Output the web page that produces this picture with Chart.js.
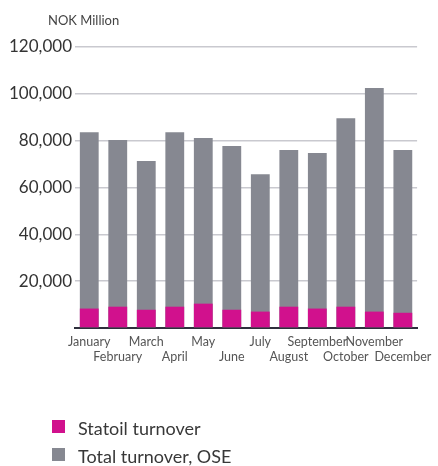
<!DOCTYPE html>
<html>
<head>
<meta charset="utf-8">
<script src="https://cdn.jsdelivr.net/npm/chart.js@4.4.0/dist/chart.umd.min.js"></script>
<style>
  html, body { margin: 0; padding: 0; background: #fff; }
  #wrap { position: relative; width: 438px; height: 466px; overflow: hidden; }
  #legend { position: absolute; left: 0; top: 0; font-family: Lato, "Open Sans", sans-serif; font-size: 18px; color: #383838; }
  .item { position: absolute; left: 52px; height: 20px; line-height: 20px; display: flex; align-items: flex-start; white-space: nowrap; }
  .box { width: 13px; height: 13px; margin-top: 2px; margin-right: 13px; }
</style>
</head>
<body>
<div id="wrap">
  <canvas id="chart" width="438" height="466"></canvas>
  <div id="legend"></div>
</div>
<script>
const months = ['January', 'February', 'March', 'April', 'May', 'June', 'July', 'August', 'September', 'October', 'November', 'December'];
// NOK million
const statoilTurnover = [8300, 9100, 7800, 9100, 10400, 7800, 7000, 9100, 8300, 9100, 7000, 6500];
const totalTurnover = [83600, 80300, 71300, 83600, 81100, 77700, 65700, 76000, 74700, 89600, 102500, 76000];
const yTicks = [0, 20000, 40000, 60000, 80000, 100000, 120000];

const magenta = '#d1118d';
const grey = '#868891';

// "NOK Million" above the value axis
const unitLabel = {
    id: 'unitLabel',
    afterDraw(chart) {
        const ctx = chart.ctx;
        ctx.save();
        ctx.font = '13px Lato, "Open Sans", sans-serif';
        ctx.fillStyle = '#444';
        ctx.textBaseline = 'alphabetic';
        ctx.fillText('NOK Million', 48, 25);
        ctx.restore();
    }
};

const ctx = document.getElementById('chart').getContext('2d');
const chart = new Chart(ctx, {
    type: 'bar',
    data: {
        labels: months,
        datasets: [{
            label: 'Statoil turnover',
            data: statoilTurnover,
            backgroundColor: magenta,
            grouped: false,
            barPercentage: 0.66,
            categoryPercentage: 1
        }, {
            label: 'Total turnover, OSE',
            data: totalTurnover,
            backgroundColor: grey,
            grouped: false,
            barPercentage: 0.66,
            categoryPercentage: 1
        }]
    },
    options: {
        responsive: false,
        animation: false,
        layout: {
            padding: { top: 47, right: 17, bottom: 78, left: 0 }
        },
        scales: {
            x: {
                grid: { display: false, drawTicks: false },
                border: { display: true, color: '#2e2f3c', width: 2 },
                ticks: {
                    autoSkip: false,
                    maxRotation: 0,
                    minRotation: 0,
                    padding: 6,
                    color: '#555',
                    font: { family: 'Lato, "Open Sans", sans-serif', size: 12.5, lineHeight: 1.25 },
                    callback: (v, i) => i % 2 ? ['', months[i]] : months[i]
                },
                afterFit: (scale) => { scale.height = 60; }
            },
            y: {
                min: yTicks[0],
                max: yTicks[yTicks.length - 1],
                afterBuildTicks: (scale) => { scale.ticks = yTicks.map(v => ({ value: v })); },
                grid: { color: '#c9c9cf', lineWidth: 1.5, drawTicks: false },
                border: { display: false },
                ticks: {
                    padding: 3,
                    color: '#333',
                    font: { family: 'Lato, "Open Sans", sans-serif', size: 17 },
                    callback: (v) => v === 0 ? '' : v.toLocaleString('en-US')
                },
                afterFit: (scale) => { scale.width = 75; }
            }
        },
        plugins: {
            legend: { display: false },
            tooltip: { enabled: false }
        }
    },
    plugins: [unitLabel]
});

// legend below the chart, one entry per row
const legend = document.getElementById('legend');
chart.data.datasets.forEach((ds, i) => {
    const item = document.createElement('div');
    item.className = 'item';
    item.style.top = (418 + i * 28) + 'px';
    const box = document.createElement('span');
    box.className = 'box';
    box.style.background = ds.backgroundColor;
    const text = document.createElement('span');
    text.textContent = ds.label;
    item.appendChild(box);
    item.appendChild(text);
    legend.appendChild(item);
});
</script>
</body>
</html>
